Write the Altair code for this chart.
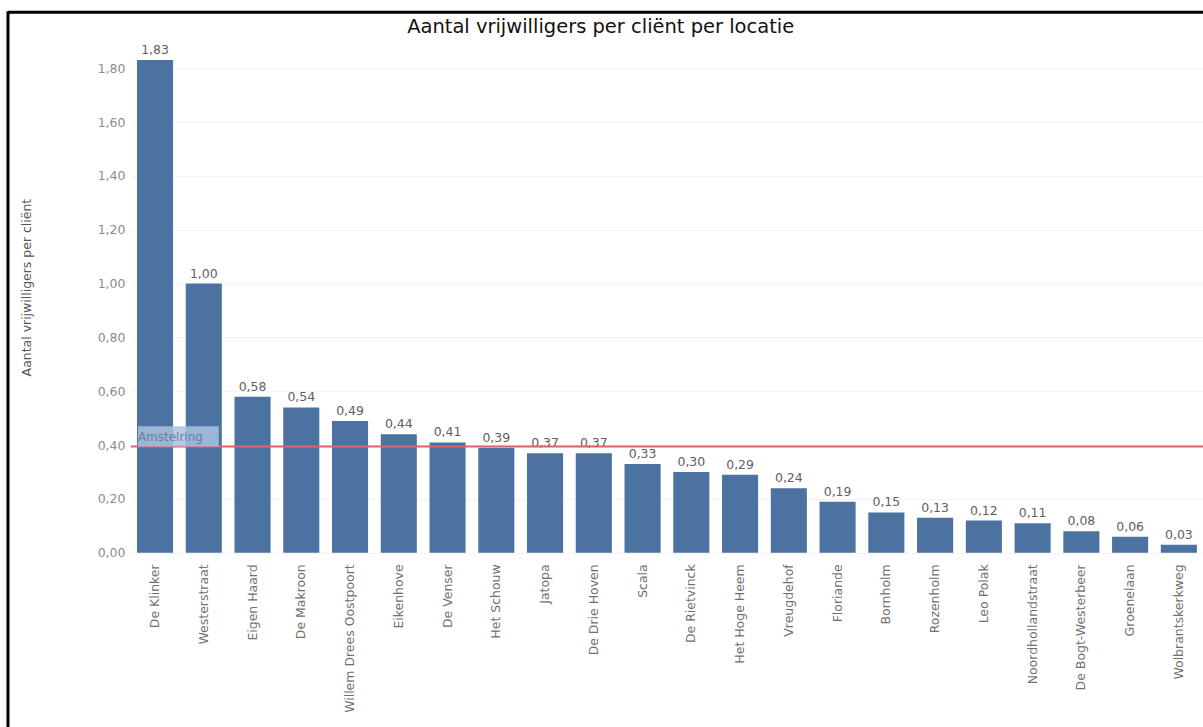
import altair as alt
import pandas as pd

locaties = ["De Klinker", "Westerstraat", "Eigen Haard", "De Makroon", "Willem Drees Oostpoort",
            "Eikenhove", "De Venser", "Het Schouw", "Jatopa", "De Drie Hoven", "Scala",
            "De Rietvinck", "Het Hoge Heem", "Vreugdehof", "Floriande", "Bornholm", "Rozenholm",
            "Leo Polak", "Noordhollandstraat", "De Bogt-Westerbeer", "Groenelaan", "Wolbrantskerkweg"]
waarden = [1.83, 1.00, 0.58, 0.54, 0.49, 0.44, 0.41, 0.39, 0.37, 0.37, 0.33,
           0.30, 0.29, 0.24, 0.19, 0.15, 0.13, 0.12, 0.11, 0.08, 0.06, 0.03]
gemiddelde = 0.395
y_ticks = [0.0, 0.2, 0.4, 0.6, 0.8, 1.0, 1.2, 1.4, 1.6, 1.8]

df = pd.DataFrame({"locatie": locaties, "waarde": waarden})

FONT = "DejaVu Sans"

x_enc = alt.X("locatie:N", sort=None, title=None,
              scale=alt.Scale(paddingInner=0.26, paddingOuter=0.125),
              axis=alt.Axis(labelAngle=-90, labelFontSize=12.5, labelColor="#707070", labelFont=FONT,
                            domain=False, ticks=False, labelPadding=11, labelLimit=300))
y_scale = alt.Scale(domain=[0, 1.9], nice=False)
y_enc = alt.Y("waarde:Q", scale=y_scale, title="Aantal vrijwilligers per cliënt",
              axis=alt.Axis(values=y_ticks,
                            labelExpr="replace(format(datum.value, '.2f'), '.', ',')",
                            labelFontSize=12.5, labelColor="#8c8c8c", labelFont=FONT,
                            domain=False, ticks=False, labelPadding=6,
                            gridColor="#f2f2f2", grid=True,
                            titleFontSize=12.5, titleColor="#555555", titleFont=FONT,
                            titleFontWeight="normal", titleX=-97, titleY=246))

base = alt.Chart(df)

bars = base.mark_bar(color="#4b72a0").encode(x=x_enc, y=y_enc)

labels = base.transform_calculate(
    lbl="replace(format(datum.waarde, '.2f'), '.', ',')"
).mark_text(baseline="bottom", dy=-3, fontSize=12.5, color="#606060", font=FONT).encode(
    x=alt.X("locatie:N", sort=None), y=alt.Y("waarde:Q", scale=y_scale), text="lbl:N")

ref_line = alt.Chart().mark_rule(color="#e0626a", strokeWidth=2).encode(
    y=alt.datum(gemiddelde, scale=y_scale))

box = alt.Chart().mark_rect(fill="#a9c1e0", opacity=0.85).encode(
    x=alt.value(7), x2=alt.value(88),
    y=alt.datum(gemiddelde), y2=alt.datum(0.47))

box_text = alt.Chart().mark_text(align="left", baseline="bottom", dy=-2, fontSize=12,
                                  color="#6f7f98", font=FONT).encode(
    x=alt.value(7), y=alt.datum(gemiddelde), text=alt.value("Amstelring"))

frame_top = alt.Chart().mark_rule(color="black", strokeWidth=3).encode(
    x=alt.value(-123), x2=alt.value(1100), y=alt.value(-29))
frame_left = alt.Chart().mark_rule(color="black", strokeWidth=3).encode(
    x=alt.value(-123), y=alt.value(-30), y2=alt.value(700))

chart = alt.layer(bars, labels, ref_line, box, box_text, frame_top, frame_left).properties(
    width=1073, height=512,
    title=alt.TitleParams("Aantal vrijwilligers per cliënt per locatie", anchor="start", dx=401,
                          offset=-28, fontSize=19.5, font=FONT, fontWeight="normal", color="#111111"),
    autosize=alt.AutoSizeParams(type="none"),
    padding={"left": 131, "top": 41, "right": 0, "bottom": 174},
).configure_view(stroke=None)

chart.save("out.html", embed_options={"renderer": "svg", "actions": False})
